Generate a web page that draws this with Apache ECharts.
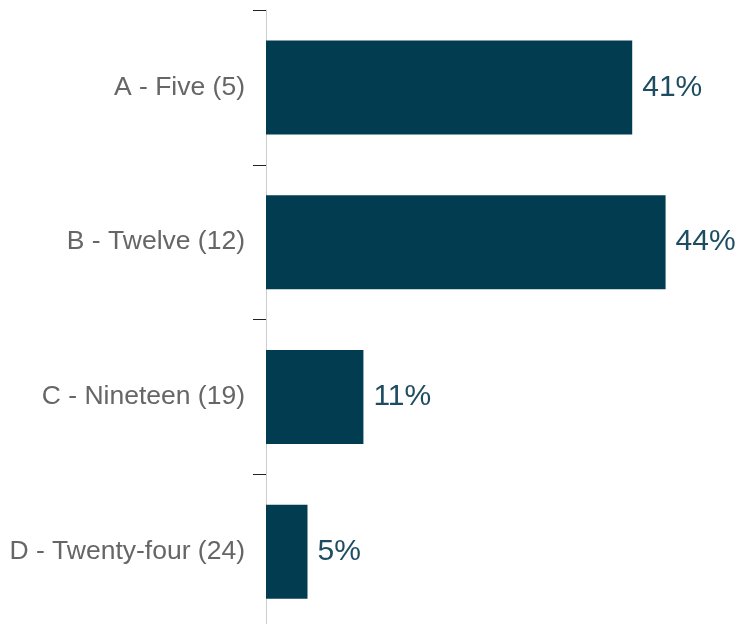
<!DOCTYPE html>
<html>
<head>
<meta charset="utf-8">
<script src="https://cdn.jsdelivr.net/npm/echarts@6/dist/echarts.min.js"></script>
<style>
html,body{margin:0;padding:0;background:#fff;}
#chart{width:738px;height:624px;}
</style>
</head>
<body>
<div id="chart"></div>
<script>
var categories = ['A - Five (5)', 'B - Twelve (12)', 'C - Nineteen (19)', 'D - Twenty-four (24)'];
var values = [40.6, 44.3, 10.8, 4.6];
var xMax = 50;

var chart = echarts.init(document.getElementById('chart'), null, {renderer: 'canvas'});
chart.setOption({
  animation: false,
  backgroundColor: '#ffffff',
  grid: {left: 266, top: 10, width: 451, height: 619, containLabel: false, outerBoundsMode: 'none'},
  xAxis: {
    type: 'value', min: 0, max: xMax, show: false,
    splitLine: {show: false}
  },
  yAxis: {
    type: 'category', data: categories, inverse: true,
    axisLine: {show: true, lineStyle: {color: '#cccccc', width: 1}},
    axisTick: {show: true, length: 13, lineStyle: {color: '#222222', width: 1}},
    axisLabel: {
      margin: 21, color: '#666666', fontSize: 26.5,
      fontFamily: 'Liberation Sans, Arial, sans-serif'
    }
  },
  series: [{
    type: 'bar', data: values, barWidth: 94,
    itemStyle: {color: '#023c50'},
    label: {
      show: true, position: 'right', distance: 10,
      color: '#1e4d62', fontSize: 30,
      fontFamily: 'Liberation Sans, Arial, sans-serif',
      formatter: function (p) { return Math.round(p.value) + '%'; }
    }
  }]
});
</script>
</body>
</html>
